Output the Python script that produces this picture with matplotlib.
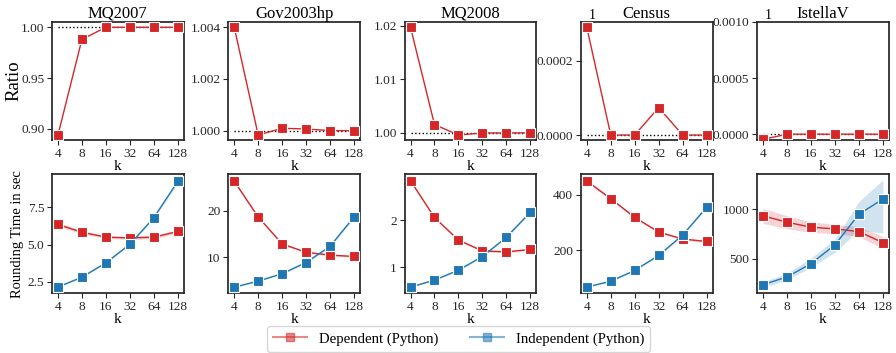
import matplotlib
matplotlib.use('Agg')
import matplotlib.pyplot as plt
from matplotlib.lines import Line2D
from matplotlib.ticker import FixedLocator, FormatStrFormatter, NullLocator

plt.rcParams.update({
    'font.family': ['Liberation Serif', 'DejaVu Serif'],
    'axes.edgecolor': '#262626', 'axes.linewidth': 1.25,
    'xtick.color': '#262626', 'ytick.color': '#262626',
    'xtick.labelsize': 9.6, 'ytick.labelsize': 9.6,
    'xtick.major.size': 3.5, 'ytick.major.size': 3.5,
    'axes.labelsize': 11, 'axes.titlesize': 12,
})

RED, BLUE = '#d62728', '#1f77b4'

k = [4, 8, 16, 32, 64, 128]
datasets = ['MQ2007', 'Gov2003hp', 'MQ2008', 'Census', 'IstellaV']

# 上段: ratio (Census / IstellaV は 1 からの差として描く)
ratio_mq2007 = [0.894, 0.988, 1.0, 1.0, 1.0, 1.0]
ratio_gov = [1.004, 0.99983, 1.00009, 1.000065, 1.0, 1.0]
ratio_mq2008 = [1.0197, 1.00156, 0.9996, 0.99998, 1.0, 1.0]
ratio_census = [1.000291, 1.0, 1.0, 1.0000742, 1.0, 1.0]
ratio_istella = [0.999954, 1.0, 1.0, 1.0, 1.0, 1.0]
ratios = [ratio_mq2007, ratio_gov, ratio_mq2008, ratio_census, ratio_istella]
ratio_ticks = [[0.90, 0.95, 1.00], [1.000, 1.002, 1.004], [1.00, 1.01, 1.02],
               [0.0, 0.0002], [0.0, 0.0005, 0.0010]]
ratio_fmt = ['%.2f', '%.3f', '%.2f', '%.4f', '%.4f']

# 下段: rounding time [s] と信頼区間の帯
dep_time = [[6.35, 5.83, 5.50, 5.45, 5.50, 5.88],
            [26.4, 18.7, 12.9, 11.1, 10.5, 10.2],
            [2.84, 2.06, 1.58, 1.35, 1.33, 1.38],
            [449, 385, 318, 265, 240, 231],
            [933, 869, 819, 802, 775, 664]]
dep_lo = [[6.22, 5.72, 5.40, 5.35, 5.38, 5.77],
          [26.1, 18.5, 12.7, 10.9, 10.3, 10.0],
          [2.82, 2.04, 1.56, 1.33, 1.31, 1.36],
          [445, 381, 314, 261, 236, 227],
          [858, 804, 764, 757, 725, 604]]
dep_hi = [[6.48, 5.94, 5.60, 5.55, 5.62, 5.99],
          [26.7, 18.9, 13.1, 11.3, 10.7, 10.4],
          [2.86, 2.08, 1.60, 1.37, 1.35, 1.40],
          [453, 389, 322, 269, 244, 235],
          [1008, 934, 874, 847, 825, 724]]
ind_time = [[2.16, 2.82, 3.78, 5.02, 6.80, 9.23],
            [3.6, 4.9, 6.5, 8.9, 12.4, 18.7],
            [0.58, 0.73, 0.94, 1.23, 1.64, 2.17],
            [67, 88, 127, 181, 254, 354],
            [242, 319, 453, 641, 950, 1101]]
ind_lo = [[2.12, 2.78, 3.73, 4.96, 6.72, 9.12],
          [3.5, 4.8, 6.4, 8.7, 12.2, 18.4],
          [0.57, 0.72, 0.93, 1.22, 1.62, 2.15],
          [65, 86, 125, 178, 251, 350],
          [212, 289, 416, 567, 792, 758]]
ind_hi = [[2.20, 2.86, 3.83, 5.08, 6.88, 9.34],
          [3.7, 5.0, 6.6, 9.1, 12.6, 19.0],
          [0.59, 0.74, 0.95, 1.24, 1.66, 2.19],
          [69, 90, 129, 184, 257, 358],
          [272, 356, 510, 700, 1077, 1295]]

mk = dict(marker='s', ms=6.5, mec='white', mew=0.8, lw=1.0)

fig, axes = plt.subplots(2, 5, figsize=(8.96, 3.53), dpi=100)
plt.subplots_adjust(left=0.058, right=0.992, top=0.938, bottom=0.170,
                    wspace=0.338, hspace=0.287)

for j, name in enumerate(datasets):
    ax = axes[0, j]
    r = ratios[j]
    shifted = j >= 3
    y = [v - 1 for v in r] if shifted else r
    base = 0.0 if shifted else 1.0
    ax.plot(k, [base] * len(k), color='black', ls=':', lw=1.0, zorder=1)
    ax.plot(k, y, color=RED, zorder=3, **mk)
    ax.yaxis.set_major_locator(FixedLocator(ratio_ticks[j]))
    ax.yaxis.set_major_formatter(FormatStrFormatter(ratio_fmt[j]))
    if j == 4:
        ax.set_ylim(-0.0000555, 0.001)
    if shifted:
        ax.text(0.06, 1.0, '1', transform=ax.transAxes, ha='left', va='bottom',
                fontsize=10)
    ax.set_title(name, pad=2)

    ax = axes[1, j]
    ax.fill_between(k, dep_lo[j], dep_hi[j], color=RED, alpha=0.2, lw=0)
    ax.fill_between(k, ind_lo[j], ind_hi[j], color=BLUE, alpha=0.2, lw=0)
    ax.plot(k, dep_time[j], color=RED, zorder=3, **mk)
    ax.plot(k, ind_time[j], color=BLUE, zorder=3, **mk)

for ax in axes.flat:
    ax.set_xscale('log', base=2)
    ax.xaxis.set_major_locator(FixedLocator(k))
    ax.xaxis.set_minor_locator(NullLocator())
    ax.set_xticklabels([str(v) for v in k])
    ax.set_xlabel('k', labelpad=0)
    ax.tick_params(pad=2)

axes[0, 0].set_ylabel('Ratio', fontsize=13.5)
axes[0, 0].yaxis.set_label_coords(-0.225, 0.5)
axes[1, 0].set_ylabel('Rounding Time in sec', fontsize=10.5)
axes[1, 0].yaxis.set_label_coords(-0.215, 0.5)
axes[1, 0].yaxis.set_major_locator(FixedLocator([2.5, 5.0, 7.5]))
axes[1, 0].yaxis.set_major_formatter(FormatStrFormatter('%.1f'))
axes[1, 1].yaxis.set_major_locator(FixedLocator([10, 20]))
axes[1, 2].yaxis.set_major_locator(FixedLocator([1, 2, 3]))
axes[1, 3].yaxis.set_major_locator(FixedLocator([200, 400]))
axes[1, 4].yaxis.set_major_locator(FixedLocator([500, 1000]))

handles = [Line2D([], [], color=RED, marker='s', ms=6, mec=RED, lw=1.5, alpha=0.55),
           Line2D([], [], color=BLUE, marker='s', ms=6, mec=BLUE, lw=1.5, alpha=0.55)]
leg = fig.legend(handles, ['Dependent (Python)', 'Independent (Python)'],
                 loc='lower center', bbox_to_anchor=(0.512, 0.0), ncol=2,
                 fontsize=10.6, handlelength=2.3, columnspacing=2.2,
                 borderaxespad=0.1, fancybox=True)
for h in leg.legend_handles:
    h.set_markerfacecolor(h.get_color())
    h.set_markeredgecolor(h.get_color())

plt.savefig('out.png', dpi=100)
plt.close()
